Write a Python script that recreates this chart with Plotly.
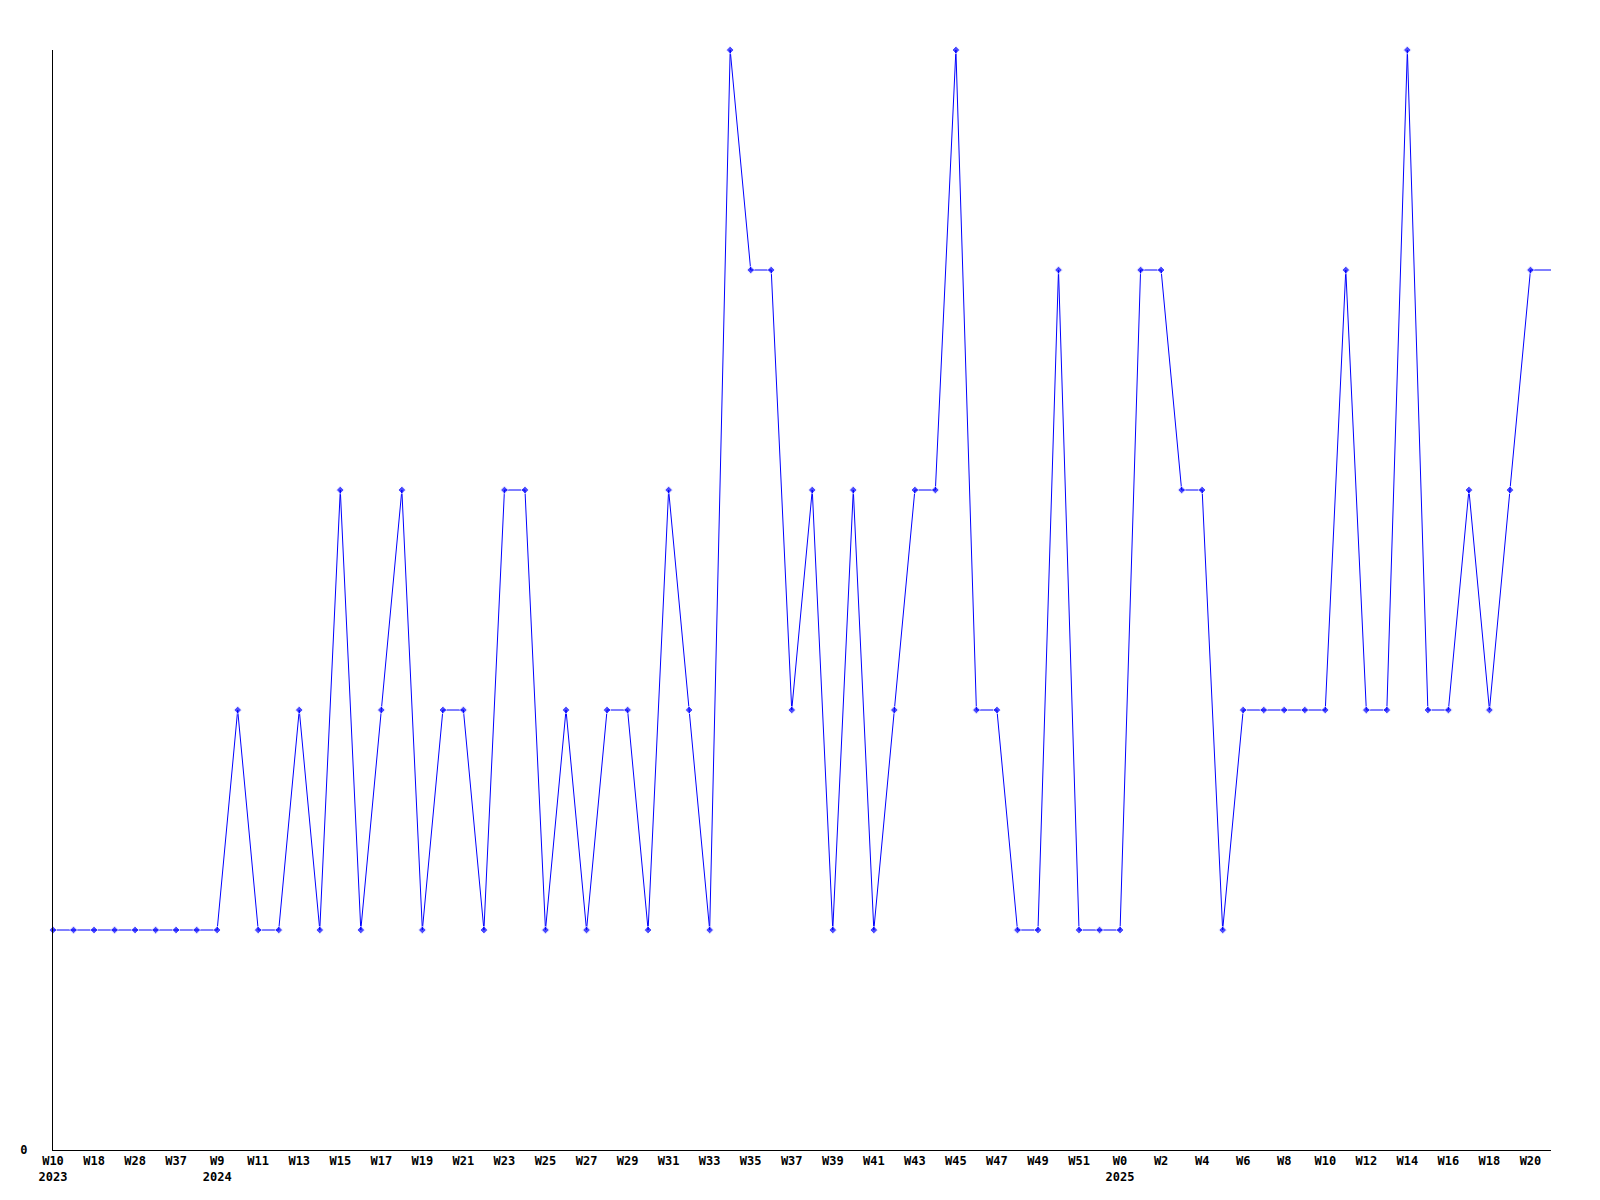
import plotly.graph_objects as go

weeks = ["W10<br>2023", "W13", "W18", "W22", "W28", "W33", "W37", "W44",
         "W9<br>2024", "W10", "W11", "W12", "W13", "W14", "W15", "W16", "W17", "W18",
         "W19", "W20", "W21", "W22", "W23", "W24", "W25", "W26", "W27", "W28", "W29",
         "W30", "W31", "W32", "W33", "W34", "W35", "W36", "W37", "W38", "W39", "W40",
         "W41", "W42", "W43", "W44", "W45", "W46", "W47", "W48", "W49", "W50", "W51",
         "W52", "W0<br>2025", "W1", "W2", "W3", "W4", "W5", "W6", "W7", "W8", "W9",
         "W10", "W11", "W12", "W13", "W14", "W15", "W16", "W17", "W18", "W19", "W20", "W21"]

counts = [1, 1, 1, 1, 1, 1, 1, 1,
          1, 2, 1, 1, 2, 1, 3, 1, 2, 3,
          1, 2, 2, 1, 3, 3, 1, 2, 1, 2, 2,
          1, 3, 2, 1, 5, 4, 4, 2, 3, 1, 3,
          1, 2, 3, 3, 5, 2, 2, 1, 1, 4, 1,
          1, 1, 4, 4, 3, 3, 1, 2, 2, 2, 2,
          2, 4, 2, 2, 5, 2, 2, 3, 2, 3, 4, 4]

x = list(range(len(counts)))
tick_idx = x[0:len(x) - 1:2]
tick_text = [weeks[i] for i in tick_idx]

marker_sizes = [6] * (len(counts) - 1) + [0]

fig = go.Figure()
fig.add_trace(go.Scatter(
    x=x, y=counts, mode="lines+markers",
    line=dict(color="#0000ff", width=1),
    marker=dict(color="#0000ff", size=marker_sizes, symbol="diamond"),
    cliponaxis=False,
    showlegend=False,
))

font = dict(family="DejaVu Sans Mono", size=12, color="#000000", weight="bold")

fig.update_layout(
    width=1600, height=1200,
    margin=dict(l=42, r=57, t=42, b=58),
    paper_bgcolor="white", plot_bgcolor="white",
    xaxis=dict(
        range=[0, len(counts) - 1],
        tickvals=tick_idx, ticktext=tick_text,
        showgrid=False, zeroline=False,
        showline=True, linecolor="black", linewidth=1,
        ticks="", tickfont=font, tickangle=0,
    ),
    yaxis=dict(
        range=[0, 5],
        tickvals=[0], ticktext=["0"],
        showgrid=False, zeroline=False,
        showline=True, linecolor="black", linewidth=1,
        ticks="", tickfont=font, ticklabelstandoff=22,
    ),
)

fig.write_html("out.html")
